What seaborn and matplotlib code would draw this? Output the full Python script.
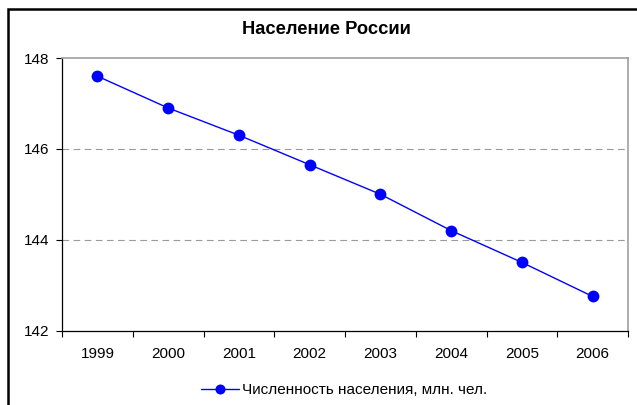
import matplotlib
matplotlib.use("Agg")
import matplotlib.pyplot as plt
import matplotlib.patches as mpatches
from matplotlib.ticker import FixedLocator, NullFormatter, FixedFormatter
import seaborn as sns
import pandas as pd

years = ["1999", "2000", "2001", "2002", "2003", "2004", "2005", "2006"]
population = [147.6, 146.9, 146.3, 145.65, 145.0, 144.2, 143.5, 142.75]
series_name = "Численность населения, млн. чел."
title = "Население России"
y_ticks = [142, 144, 146, 148]

sns.set_style("white")
plt.rcParams["font.family"] = ["Liberation Sans", "DejaVu Sans"]
plt.rcParams["text.color"] = "black"
plt.rcParams["xtick.color"] = "black"
plt.rcParams["ytick.color"] = "black"

df = pd.DataFrame({"pos": range(len(years)), "value": population, "series": series_name})

fig = plt.figure(figsize=(6.37, 4.05), dpi=100)
ax = fig.add_axes([62/637, (405-330.5)/405, (628-62)/637, (330.5-58)/405])

sns.lineplot(data=df, x="pos", y="value", hue="series", palette=["#0000FF"],
             marker="o", markersize=8.5, markeredgewidth=0, linewidth=1.0, ax=ax)

ax.set_xlim(-0.5, len(years) - 0.5)
ax.set_ylim(142, 148)
ax.set_xlabel("")
ax.set_ylabel("")

# y axis
ax.set_yticks(y_ticks)
ax.set_yticklabels([str(t) for t in y_ticks], fontsize=11)
ax.tick_params(axis="y", which="major", direction="out", length=4, width=0.8,
               color="black", labelcolor="black", left=True, pad=5)
for t in [144, 146]:
    ax.axhline(t, color="#9a9a9a", linestyle=(0, (6, 4)), linewidth=0.8, zorder=0)

# x axis: ticks at category boundaries, labels at centres
bounds = [i - 0.5 for i in range(len(years) + 1)]
ax.xaxis.set_major_locator(FixedLocator(bounds))
ax.xaxis.set_major_formatter(NullFormatter())
ax.xaxis.set_minor_locator(FixedLocator(list(range(len(years)))))
ax.xaxis.set_minor_formatter(FixedFormatter(years))
ax.tick_params(axis="x", which="major", direction="out", length=4, width=0.8,
               color="black", bottom=True)
ax.tick_params(axis="x", which="minor", length=0, labelsize=11, pad=12,
               labelcolor="black")

for side in ["left", "bottom"]:
    ax.spines[side].set_color("black")
    ax.spines[side].set_linewidth(0.9)
for side in ["top", "right"]:
    ax.spines[side].set_color("#a0a0a0")
    ax.spines[side].set_linewidth(1.2)

fig.text(326/637, (405-29)/405, title, fontsize=13.2, fontweight="bold",
         ha="center", va="center", color="black")

# legend below
ax.get_legend().remove()
handles, labels = ax.get_legend_handles_labels()
leg = fig.legend(handles, labels, loc="center", bbox_to_anchor=(344/637, (405-390)/405),
                 frameon=False, fontsize=11, handlelength=2.5, handletextpad=0.2,
                 markerscale=0.85)
for txt in leg.get_texts():
    txt.set_color("black")

# outer chart frame
fig.patches.append(mpatches.Rectangle((8/637, -0.1), 1.2, (405-9)/405 + 0.1,
                                      transform=fig.transFigure, fill=False,
                                      edgecolor="black", linewidth=1.8))

fig.savefig("out.png", dpi=100)
